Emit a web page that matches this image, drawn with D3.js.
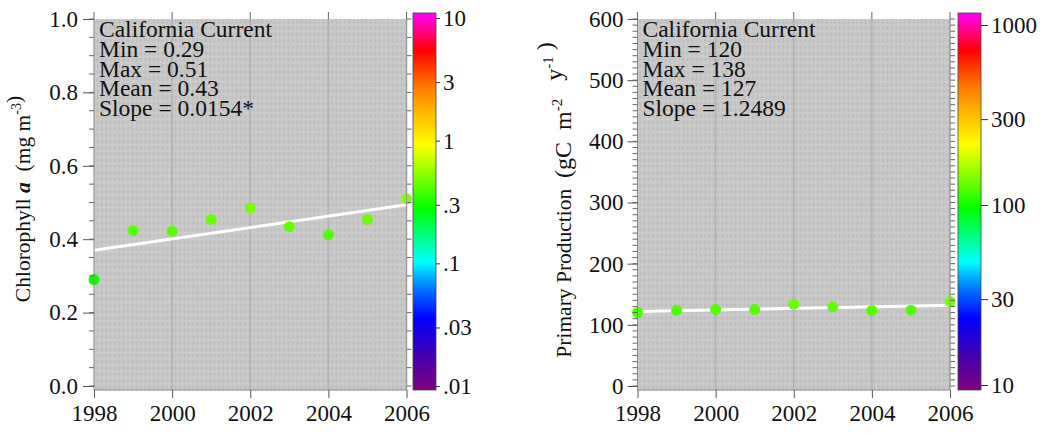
<!DOCTYPE html>
<html>
<head>
<meta charset="utf-8">
<script src="https://cdn.jsdelivr.net/npm/d3@7"></script>
<style>
  body { margin: 0; background: #fff; }
  text { font-family: "Liberation Serif", "Times New Roman", "DejaVu Serif", serif; fill: #111; white-space: pre; }
</style>
</head>
<body>
<svg id="chart" width="1047" height="433"></svg>
<script>
// values
const years = [1998, 1999, 2000, 2001, 2002, 2003, 2004, 2005, 2006];
const yearTicks = [1998, 2000, 2002, 2004, 2006];
const chlValues = [0.29, 0.424, 0.422, 0.454, 0.485, 0.434, 0.412, 0.454, 0.51];
const ppValues = [120, 123.5, 125, 125, 133.7, 129.5, 123.5, 124, 138];

const chlStats = ["California Current", "Min = 0.29", "Max = 0.51", "Mean = 0.43", "Slope = 0.0154*"];
const ppStats = ["California Current", "Min = 120", "Max = 138", "Mean = 127", "Slope = 1.2489"];

const chlTicks = [0, 0.2, 0.4, 0.6, 0.8, 1.0];
const ppTicks = [0, 100, 200, 300, 400, 500, 600];

const chlBarTicks = [10, 3, 1, 0.3, 0.1, 0.03, 0.01];
const chlBarLabels = ["10", "3", "1", ".3", ".1", ".03", ".01"];
const ppBarTicks = [1000, 300, 100, 30, 10];
const ppBarLabels = ["1000", "300", "100", "30", "10"];

// rainbow palette of the colour bars, bottom (0) to top (1)
const rainbowStops = [0, 0.08, 0.19, 0.27, 0.34, 0.48, 0.65, 0.8, 0.9, 1];
const rainbowColors = ["#800080", "#4b00a8", "#0000ff", "#0078ff", "#00ffff", "#00ff00", "#ffff00", "#ff8000", "#ff0000", "#ff00ff"];

const serif = '"Liberation Serif", "Times New Roman", serif';
const svg = d3.select("#chart");
const defs = svg.append("defs");

// grey speckled background of the plot areas
const pat = defs.append("pattern")
    .attr("id", "speckle")
    .attr("patternUnits", "userSpaceOnUse")
    .attr("width", 4.34).attr("height", 6.3);
pat.append("rect").attr("width", 4.34).attr("height", 6.3).attr("fill", "#c9c9c9");
pat.append("rect").attr("x", 1.6).attr("y", 1).attr("width", 1).attr("height", 4).attr("fill", "#b9b9b9");
pat.append("rect").attr("x", 0.8).attr("y", 2.2).attr("width", 2.6).attr("height", 0.8).attr("fill", "#bdbdbd");
pat.append("rect").attr("x", 0).attr("y", 5.6).attr("width", 4.34).attr("height", 0.7).attr("fill", "#cfcfcf");

const grad = defs.append("linearGradient")
    .attr("id", "rainbow")
    .attr("x1", 0).attr("y1", 1).attr("x2", 0).attr("y2", 0);
rainbowStops.forEach((s, i) => {
    grad.append("stop").attr("offset", s).attr("stop-color", rainbowColors[i]);
});
const rainbow = d3.scaleLinear().domain(rainbowStops).range(rainbowColors).clamp(true);

function drawPanel(cfg) {
    const g = svg.append("g");
    const x = d3.scaleLinear().domain([1998, 2006]).range([cfg.x0, cfg.x1]);
    const y = d3.scaleLinear().domain([0, cfg.yMax]).range([cfg.yZero, cfg.top]);
    const cb = d3.scaleLog().domain(cfg.barDomain).range([cfg.barLo, cfg.barHi]);
    const colorOf = v => rainbow((cfg.bottom - cb(v)) / (cfg.bottom - cfg.barTop));

    // plot background
    g.append("rect")
        .attr("x", cfg.x0).attr("y", cfg.top)
        .attr("width", cfg.x1 - cfg.x0).attr("height", cfg.bottom - cfg.top)
        .attr("fill", "url(#speckle)");

    g.selectAll(".grid").data(yearTicks.slice(1))
        .join("line")
        .attr("x1", d => x(d)).attr("x2", d => x(d))
        .attr("y1", cfg.top).attr("y2", cfg.bottom)
        .attr("stroke", "#b0b0b0").attr("stroke-width", 1.5);

    // trend line from least squares
    const mx = d3.mean(years), my = d3.mean(cfg.values);
    const slope = d3.sum(years, (yr, i) => (yr - mx) * (cfg.values[i] - my)) /
                  d3.sum(years, yr => (yr - mx) * (yr - mx));
    const fit = yr => my + slope * (yr - mx);
    g.append("line")
        .attr("x1", x(1998)).attr("y1", y(fit(1998)))
        .attr("x2", x(2006)).attr("y2", y(fit(2006)))
        .attr("stroke", "#fff").attr("stroke-width", 3);

    g.selectAll(".pt").data(cfg.values)
        .join("circle")
        .attr("cx", (d, i) => x(years[i]))
        .attr("cy", d => y(d))
        .attr("r", 5.5)
        .attr("fill", d => colorOf(d));

    // left axis
    const yAxis = d3.axisLeft(y).tickValues(cfg.ticks).tickFormat(cfg.fmt)
        .tickSize(cfg.majorLen).tickPadding(cfg.labelPad);
    const ya = g.append("g").attr("transform", `translate(${cfg.x0},0)`).call(yAxis);
    ya.select(".domain").attr("stroke", "#888").attr("d", `M0,${cfg.top}V${cfg.bottom}`);
    ya.selectAll(".tick line").attr("stroke", "#555");
    ya.selectAll("text").attr("font-size", 23).attr("fill", "#111").style("font-family", serif);

    const minor = d3.range(0, cfg.yMax + cfg.minorStep / 2, cfg.minorStep);
    g.selectAll(".minorL").data(minor)
        .join("line")
        .attr("x1", cfg.x0 - 5).attr("x2", cfg.x0)
        .attr("y1", d => y(d)).attr("y2", d => y(d))
        .attr("stroke", "#666");
    g.selectAll(".minorR").data(minor)
        .join("line")
        .attr("x1", cfg.x1).attr("x2", cfg.x1 + 5)
        .attr("y1", d => y(d)).attr("y2", d => y(d))
        .attr("stroke", "#666");
    g.append("line")
        .attr("x1", cfg.x1).attr("x2", cfg.x1)
        .attr("y1", cfg.top).attr("y2", cfg.bottom)
        .attr("stroke", "#999");

    // bottom axis
    const xAxis = d3.axisBottom(x).tickValues(yearTicks).tickFormat(d3.format("d")).tickSize(8).tickPadding(7);
    const xa = g.append("g").attr("transform", `translate(0,${cfg.bottom})`).call(xAxis);
    xa.select(".domain").attr("stroke", "#888").attr("d", `M${cfg.x0},0H${cfg.x1}`);
    xa.selectAll(".tick line").attr("stroke", "#555");
    xa.selectAll("text").attr("font-size", 23).attr("fill", "#111").style("font-family", serif);

    // top ticks
    g.selectAll(".topTick").data(yearTicks)
        .join("line")
        .attr("x1", d => x(d)).attr("x2", d => x(d))
        .attr("y1", cfg.top - 7).attr("y2", cfg.top)
        .attr("stroke", "#666");

    // statistics block
    g.append("text")
        .attr("x", cfg.x0 + 5).attr("y", cfg.top)
        .attr("font-size", 23.5)
        .selectAll("tspan").data(cfg.stats)
        .join("tspan")
        .attr("x", cfg.x0 + 5)
        .attr("dy", (d, i) => i === 0 ? 18 : 19.8)
        .text(d => d);

    // axis title
    const title = g.append("text")
        .attr("transform", `translate(${cfg.titleX},${cfg.titleY}) rotate(-90)`)
        .attr("text-anchor", "middle")
        .attr("font-size", 21.5);
    cfg.title(title);

    // colour bar
    g.append("rect")
        .attr("x", cfg.barX).attr("y", cfg.barTop)
        .attr("width", 23).attr("height", cfg.bottom - cfg.barTop)
        .attr("fill", "url(#rainbow)")
        .attr("stroke", "#444").attr("stroke-width", 0.8);
    const cAxis = d3.axisRight(cb).tickValues(cfg.barTicks)
        .tickFormat((d, i) => cfg.barLabels[i]).tickSize(cfg.barTickLen).tickPadding(3);
    const ca = g.append("g").attr("transform", `translate(${cfg.barX + 23},0)`).call(cAxis);
    ca.select(".domain").remove();
    ca.selectAll(".tick line").attr("stroke", "#333");
    ca.selectAll("text").attr("font-size", 23).attr("fill", "#111").style("font-family", serif);
}

function sup(t, s, size) {
    t.append("tspan").attr("dy", -9).attr("font-size", size || 14).text(s);
    t.append("tspan").attr("dy", 9).text("");
}

drawPanel({
    x0: 94, x1: 406.5, top: 19, bottom: 390, yZero: 386, yMax: 1,
    values: chlValues, ticks: chlTicks, fmt: d3.format(".1f"), minorStep: 0.05,
    majorLen: 11, labelPad: 5,
    stats: chlStats,
    barX: 413, barTop: 13, barLo: 386, barHi: 18, barDomain: [0.01, 10], barTickLen: 4,
    barTicks: chlBarTicks, barLabels: chlBarLabels,
    titleX: 30, titleY: 199,
    title: t => {
        t.append("tspan").text("Chlorophyll ");
        t.append("tspan").attr("font-style", "italic").attr("font-weight", "bold").text("a");
        t.append("tspan").text("  (mg m");
        sup(t, "-3");
        t.append("tspan").text(")");
    }
});

drawPanel({
    x0: 637.5, x1: 950, top: 19, bottom: 390, yZero: 386, yMax: 600,
    values: ppValues, ticks: ppTicks, fmt: d3.format("d"), minorStep: 10,
    majorLen: 10, labelPad: 4,
    stats: ppStats,
    barX: 958, barTop: 13, barLo: 385, barHi: 25, barDomain: [10, 1000], barTickLen: 7,
    barTicks: ppBarTicks, barLabels: ppBarLabels,
    titleX: 571, titleY: 200,
    title: t => {
        t.append("tspan").text("Primary Production  ");
        t.append("tspan").attr("font-size", 24).text("(gC  m");
        sup(t, "-2", 15);
        t.append("tspan").attr("font-size", 24).text("   y");
        sup(t, "-1", 15);
        t.append("tspan").attr("font-size", 24).text(" )");
    }
});
</script>
</body>
</html>
